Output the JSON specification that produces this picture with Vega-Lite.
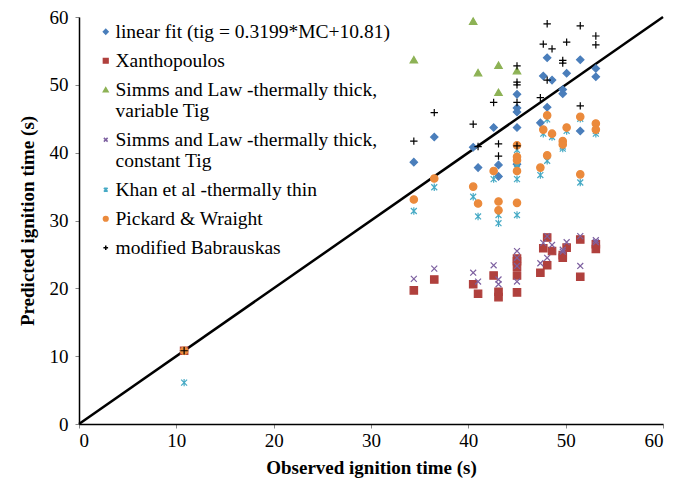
{
  "$schema": "https://vega.github.io/schema/vega-lite/v6.json",
  "width": 584,
  "height": 407,
  "autosize": {"type": "none"},
  "padding": {"left": 79, "top": 17, "right": 23, "bottom": 56},
  "background": "white",
  "config": {
    "font": "Liberation Serif",
    "view": {"stroke": null},
    "axis": {
      "grid": false,
      "domainColor": "black",
      "domainWidth": 1.5,
      "tickColor": "#888888",
      "tickSize": 4,
      "labelFont": "Liberation Serif",
      "labelFontSize": 19,
      "labelColor": "black",
      "titleFont": "Liberation Serif",
      "titleFontSize": 19,
      "titleFontWeight": "bold",
      "titleColor": "black"
    }
  },
  "datasets": {
    "diag": [{"x": 0, "y": 0}, {"x": 60, "y": 60}]
  },
  "layer": [
    {
      "data": {"name": "diag"},
      "mark": {"type": "line", "color": "black", "strokeWidth": 2.5},
      "encoding": {
        "x": {"field": "x", "type": "quantitative"},
        "y": {"field": "y", "type": "quantitative"}
      }
    },
    {
      "data": {
        "values": [
          {"s": "linear fit (tig = 0.3199*MC+10.81)", "x": 10.8, "y": 10.8},
          {"s": "linear fit (tig = 0.3199*MC+10.81)", "x": 34.4, "y": 38.6},
          {"s": "linear fit (tig = 0.3199*MC+10.81)", "x": 36.5, "y": 42.3},
          {"s": "linear fit (tig = 0.3199*MC+10.81)", "x": 40.5, "y": 40.8},
          {"s": "linear fit (tig = 0.3199*MC+10.81)", "x": 41.0, "y": 37.8},
          {"s": "linear fit (tig = 0.3199*MC+10.81)", "x": 42.6, "y": 43.7},
          {"s": "linear fit (tig = 0.3199*MC+10.81)", "x": 43.1, "y": 38.2},
          {"s": "linear fit (tig = 0.3199*MC+10.81)", "x": 43.1, "y": 36.5},
          {"s": "linear fit (tig = 0.3199*MC+10.81)", "x": 45.0, "y": 48.6},
          {"s": "linear fit (tig = 0.3199*MC+10.81)", "x": 45.0, "y": 46.6},
          {"s": "linear fit (tig = 0.3199*MC+10.81)", "x": 45.0, "y": 46.0},
          {"s": "linear fit (tig = 0.3199*MC+10.81)", "x": 45.0, "y": 43.7},
          {"s": "linear fit (tig = 0.3199*MC+10.81)", "x": 45.0, "y": 38.3},
          {"s": "linear fit (tig = 0.3199*MC+10.81)", "x": 47.4, "y": 44.4},
          {"s": "linear fit (tig = 0.3199*MC+10.81)", "x": 47.7, "y": 51.3},
          {"s": "linear fit (tig = 0.3199*MC+10.81)", "x": 48.1, "y": 54.0},
          {"s": "linear fit (tig = 0.3199*MC+10.81)", "x": 48.1, "y": 46.7},
          {"s": "linear fit (tig = 0.3199*MC+10.81)", "x": 48.6, "y": 50.7},
          {"s": "linear fit (tig = 0.3199*MC+10.81)", "x": 49.7, "y": 49.3},
          {"s": "linear fit (tig = 0.3199*MC+10.81)", "x": 49.7, "y": 48.7},
          {"s": "linear fit (tig = 0.3199*MC+10.81)", "x": 50.1, "y": 51.7},
          {"s": "linear fit (tig = 0.3199*MC+10.81)", "x": 51.5, "y": 53.7},
          {"s": "linear fit (tig = 0.3199*MC+10.81)", "x": 51.5, "y": 43.2},
          {"s": "linear fit (tig = 0.3199*MC+10.81)", "x": 53.1, "y": 52.4},
          {"s": "linear fit (tig = 0.3199*MC+10.81)", "x": 53.1, "y": 51.2},

          {"s": "Xanthopoulos", "x": 10.8, "y": 10.8},
          {"s": "Xanthopoulos", "x": 34.4, "y": 19.7},
          {"s": "Xanthopoulos", "x": 36.5, "y": 21.3},
          {"s": "Xanthopoulos", "x": 40.5, "y": 20.6},
          {"s": "Xanthopoulos", "x": 41.0, "y": 19.2},
          {"s": "Xanthopoulos", "x": 42.6, "y": 21.9},
          {"s": "Xanthopoulos", "x": 43.1, "y": 19.5},
          {"s": "Xanthopoulos", "x": 43.1, "y": 18.7},
          {"s": "Xanthopoulos", "x": 45.0, "y": 24.4},
          {"s": "Xanthopoulos", "x": 45.0, "y": 24.0},
          {"s": "Xanthopoulos", "x": 45.0, "y": 23.2},
          {"s": "Xanthopoulos", "x": 45.0, "y": 21.9},
          {"s": "Xanthopoulos", "x": 45.0, "y": 19.4},
          {"s": "Xanthopoulos", "x": 47.4, "y": 22.3},
          {"s": "Xanthopoulos", "x": 47.7, "y": 25.9},
          {"s": "Xanthopoulos", "x": 48.1, "y": 27.5},
          {"s": "Xanthopoulos", "x": 48.1, "y": 23.4},
          {"s": "Xanthopoulos", "x": 48.6, "y": 25.5},
          {"s": "Xanthopoulos", "x": 49.7, "y": 24.9},
          {"s": "Xanthopoulos", "x": 49.7, "y": 24.5},
          {"s": "Xanthopoulos", "x": 50.1, "y": 26.0},
          {"s": "Xanthopoulos", "x": 51.5, "y": 27.2},
          {"s": "Xanthopoulos", "x": 51.5, "y": 21.7},
          {"s": "Xanthopoulos", "x": 53.1, "y": 26.5},
          {"s": "Xanthopoulos", "x": 53.1, "y": 25.8},

          {"s": "Simms and Law -thermally thick, variable Tig", "x": 34.4, "y": 53.7},
          {"s": "Simms and Law -thermally thick, variable Tig", "x": 40.5, "y": 59.4},
          {"s": "Simms and Law -thermally thick, variable Tig", "x": 41.0, "y": 51.8},
          {"s": "Simms and Law -thermally thick, variable Tig", "x": 43.1, "y": 52.9},
          {"s": "Simms and Law -thermally thick, variable Tig", "x": 43.1, "y": 48.9},
          {"s": "Simms and Law -thermally thick, variable Tig", "x": 45.0, "y": 52.1},

          {"s": "Simms and Law -thermally thick, constant Tig", "x": 34.4, "y": 21.4},
          {"s": "Simms and Law -thermally thick, constant Tig", "x": 36.5, "y": 22.9},
          {"s": "Simms and Law -thermally thick, constant Tig", "x": 40.5, "y": 22.3},
          {"s": "Simms and Law -thermally thick, constant Tig", "x": 41.0, "y": 21.0},
          {"s": "Simms and Law -thermally thick, constant Tig", "x": 42.6, "y": 23.4},
          {"s": "Simms and Law -thermally thick, constant Tig", "x": 43.1, "y": 21.3},
          {"s": "Simms and Law -thermally thick, constant Tig", "x": 43.1, "y": 20.6},
          {"s": "Simms and Law -thermally thick, constant Tig", "x": 45.0, "y": 25.5},
          {"s": "Simms and Law -thermally thick, constant Tig", "x": 45.0, "y": 24.5},
          {"s": "Simms and Law -thermally thick, constant Tig", "x": 45.0, "y": 23.3},
          {"s": "Simms and Law -thermally thick, constant Tig", "x": 45.0, "y": 21.0},
          {"s": "Simms and Law -thermally thick, constant Tig", "x": 47.4, "y": 23.7},
          {"s": "Simms and Law -thermally thick, constant Tig", "x": 47.7, "y": 26.7},
          {"s": "Simms and Law -thermally thick, constant Tig", "x": 48.1, "y": 27.7},
          {"s": "Simms and Law -thermally thick, constant Tig", "x": 48.1, "y": 24.5},
          {"s": "Simms and Law -thermally thick, constant Tig", "x": 48.6, "y": 26.4},
          {"s": "Simms and Law -thermally thick, constant Tig", "x": 49.7, "y": 25.7},
          {"s": "Simms and Law -thermally thick, constant Tig", "x": 49.7, "y": 25.4},
          {"s": "Simms and Law -thermally thick, constant Tig", "x": 50.1, "y": 26.8},
          {"s": "Simms and Law -thermally thick, constant Tig", "x": 51.5, "y": 27.7},
          {"s": "Simms and Law -thermally thick, constant Tig", "x": 51.5, "y": 23.3},
          {"s": "Simms and Law -thermally thick, constant Tig", "x": 53.1, "y": 27.1},
          {"s": "Simms and Law -thermally thick, constant Tig", "x": 53.1, "y": 26.8},

          {"s": "Khan et al -thermally thin", "x": 10.8, "y": 6.1},
          {"s": "Khan et al -thermally thin", "x": 34.4, "y": 31.4},
          {"s": "Khan et al -thermally thin", "x": 36.5, "y": 34.9},
          {"s": "Khan et al -thermally thin", "x": 40.5, "y": 33.5},
          {"s": "Khan et al -thermally thin", "x": 41.0, "y": 30.6},
          {"s": "Khan et al -thermally thin", "x": 42.6, "y": 36.1},
          {"s": "Khan et al -thermally thin", "x": 43.1, "y": 30.8},
          {"s": "Khan et al -thermally thin", "x": 43.1, "y": 29.6},
          {"s": "Khan et al -thermally thin", "x": 45.0, "y": 40.4},
          {"s": "Khan et al -thermally thin", "x": 45.0, "y": 38.3},
          {"s": "Khan et al -thermally thin", "x": 45.0, "y": 38.0},
          {"s": "Khan et al -thermally thin", "x": 45.0, "y": 36.1},
          {"s": "Khan et al -thermally thin", "x": 45.0, "y": 30.8},
          {"s": "Khan et al -thermally thin", "x": 47.4, "y": 36.7},
          {"s": "Khan et al -thermally thin", "x": 47.7, "y": 42.8},
          {"s": "Khan et al -thermally thin", "x": 48.1, "y": 44.9},
          {"s": "Khan et al -thermally thin", "x": 48.1, "y": 38.8},
          {"s": "Khan et al -thermally thin", "x": 48.6, "y": 42.3},
          {"s": "Khan et al -thermally thin", "x": 49.7, "y": 40.9},
          {"s": "Khan et al -thermally thin", "x": 49.7, "y": 40.6},
          {"s": "Khan et al -thermally thin", "x": 50.1, "y": 43.2},
          {"s": "Khan et al -thermally thin", "x": 51.5, "y": 45.0},
          {"s": "Khan et al -thermally thin", "x": 51.5, "y": 35.6},
          {"s": "Khan et al -thermally thin", "x": 53.1, "y": 43.2},
          {"s": "Khan et al -thermally thin", "x": 53.1, "y": 42.8},

          {"s": "Pickard & Wraight", "x": 10.8, "y": 10.8},
          {"s": "Pickard & Wraight", "x": 34.4, "y": 33.1},
          {"s": "Pickard & Wraight", "x": 36.5, "y": 36.2},
          {"s": "Pickard & Wraight", "x": 40.5, "y": 35.0},
          {"s": "Pickard & Wraight", "x": 41.0, "y": 32.5},
          {"s": "Pickard & Wraight", "x": 42.6, "y": 37.3},
          {"s": "Pickard & Wraight", "x": 43.1, "y": 32.8},
          {"s": "Pickard & Wraight", "x": 43.1, "y": 31.5},
          {"s": "Pickard & Wraight", "x": 45.0, "y": 41.1},
          {"s": "Pickard & Wraight", "x": 45.0, "y": 39.4},
          {"s": "Pickard & Wraight", "x": 45.0, "y": 38.9},
          {"s": "Pickard & Wraight", "x": 45.0, "y": 37.3},
          {"s": "Pickard & Wraight", "x": 45.0, "y": 32.6},
          {"s": "Pickard & Wraight", "x": 47.4, "y": 37.8},
          {"s": "Pickard & Wraight", "x": 47.7, "y": 43.4},
          {"s": "Pickard & Wraight", "x": 48.1, "y": 45.5},
          {"s": "Pickard & Wraight", "x": 48.1, "y": 39.6},
          {"s": "Pickard & Wraight", "x": 48.6, "y": 42.8},
          {"s": "Pickard & Wraight", "x": 49.7, "y": 41.7},
          {"s": "Pickard & Wraight", "x": 49.7, "y": 41.2},
          {"s": "Pickard & Wraight", "x": 50.1, "y": 43.7},
          {"s": "Pickard & Wraight", "x": 51.5, "y": 45.3},
          {"s": "Pickard & Wraight", "x": 51.5, "y": 36.8},
          {"s": "Pickard & Wraight", "x": 53.1, "y": 44.3},
          {"s": "Pickard & Wraight", "x": 53.1, "y": 43.4},

          {"s": "modified Babrauskas", "x": 10.8, "y": 10.8},
          {"s": "modified Babrauskas", "x": 34.4, "y": 41.7},
          {"s": "modified Babrauskas", "x": 36.5, "y": 45.9},
          {"s": "modified Babrauskas", "x": 40.5, "y": 44.2},
          {"s": "modified Babrauskas", "x": 41.0, "y": 40.9},
          {"s": "modified Babrauskas", "x": 42.6, "y": 47.4},
          {"s": "modified Babrauskas", "x": 43.1, "y": 41.3},
          {"s": "modified Babrauskas", "x": 43.1, "y": 39.5},
          {"s": "modified Babrauskas", "x": 45.0, "y": 52.8},
          {"s": "modified Babrauskas", "x": 45.0, "y": 50.4},
          {"s": "modified Babrauskas", "x": 45.0, "y": 50.0},
          {"s": "modified Babrauskas", "x": 45.0, "y": 47.4},
          {"s": "modified Babrauskas", "x": 45.0, "y": 41.0},
          {"s": "modified Babrauskas", "x": 47.4, "y": 48.1},
          {"s": "modified Babrauskas", "x": 47.7, "y": 56.0},
          {"s": "modified Babrauskas", "x": 48.1, "y": 59.0},
          {"s": "modified Babrauskas", "x": 48.1, "y": 50.7},
          {"s": "modified Babrauskas", "x": 48.6, "y": 55.3},
          {"s": "modified Babrauskas", "x": 49.7, "y": 53.6},
          {"s": "modified Babrauskas", "x": 49.7, "y": 53.2},
          {"s": "modified Babrauskas", "x": 50.1, "y": 56.3},
          {"s": "modified Babrauskas", "x": 51.5, "y": 58.7},
          {"s": "modified Babrauskas", "x": 51.5, "y": 46.9},
          {"s": "modified Babrauskas", "x": 53.1, "y": 57.2},
          {"s": "modified Babrauskas", "x": 53.1, "y": 55.9}
        ]
      },
      "mark": {"type": "point", "filled": true, "size": 55, "strokeWidth": 1.2, "opacity": 1},
      "encoding": {
        "x": {
          "field": "x",
          "type": "quantitative",
          "scale": {"domain": [0, 60], "nice": false},
          "axis": {"values": [0, 10, 20, 30, 40, 50, 60], "title": "Observed ignition time (s)", "titlePadding": 8, "labelPadding": 3}
        },
        "y": {
          "field": "y",
          "type": "quantitative",
          "scale": {"domain": [0, 60], "nice": false},
          "axis": {"values": [0, 10, 20, 30, 40, 50, 60], "title": "Predicted ignition time (s)", "titlePadding": 12, "labelPadding": 7}
        },
        "color": {
          "field": "s",
          "type": "nominal",
          "sort": null,
          "scale": {
            "domain": [
              "linear fit (tig = 0.3199*MC+10.81)",
              "Xanthopoulos",
              "Simms and Law -thermally thick, variable Tig",
              "Simms and Law -thermally thick, constant Tig",
              "Khan et al -thermally thin",
              "Pickard & Wraight",
              "modified Babrauskas"
            ],
            "range": ["#4A7EBB", "#B0403D", "#8DB255", "#7D60A0", "#46AAC5", "#EB8A3C", "#000000"]
          },
          "legend": {
            "title": null,
            "orient": "none",
            "legendX": 17,
            "legendY": 5,
            "padding": 0,
            "labelFont": "Liberation Serif",
            "labelFontSize": 19.5,
            "labelColor": "black",
            "labelLimit": 400,
            "labelOffset": 0,
            "symbolSize": 22,
            "rowPadding": 8,
            "labelExpr": "indexof(datum.label, ', ') > 0 ? [slice(datum.label, 0, indexof(datum.label, ', ') + 1), slice(datum.label, indexof(datum.label, ', ') + 2)] : datum.label"
          }
        },
        "stroke": {
          "field": "s",
          "type": "nominal",
          "sort": null,
          "scale": {
            "domain": [
              "linear fit (tig = 0.3199*MC+10.81)",
              "Xanthopoulos",
              "Simms and Law -thermally thick, variable Tig",
              "Simms and Law -thermally thick, constant Tig",
              "Khan et al -thermally thin",
              "Pickard & Wraight",
              "modified Babrauskas"
            ],
            "range": ["#4A7EBB", "#B0403D", "#8DB255", "#7D60A0", "#46AAC5", "#EB8A3C", "#000000"]
          },
          "legend": null
        },
        "shape": {
          "field": "s",
          "type": "nominal",
          "sort": null,
          "scale": {
            "domain": [
              "linear fit (tig = 0.3199*MC+10.81)",
              "Xanthopoulos",
              "Simms and Law -thermally thick, variable Tig",
              "Simms and Law -thermally thick, constant Tig",
              "Khan et al -thermally thin",
              "Pickard & Wraight",
              "modified Babrauskas"
            ],
            "range": [
              "diamond",
              "square",
              "triangle-up",
              "M-0.8,-0.8L0.8,0.8M-0.8,0.8L0.8,-0.8",
              "M-0.8,-0.8L0.8,0.8M-0.8,0.8L0.8,-0.8M0,-1L0,1",
              "circle",
              "M-1,0L1,0M0,-1L0,1"
            ]
          },
          "legend": null
        }
      }
    }
  ]
}
